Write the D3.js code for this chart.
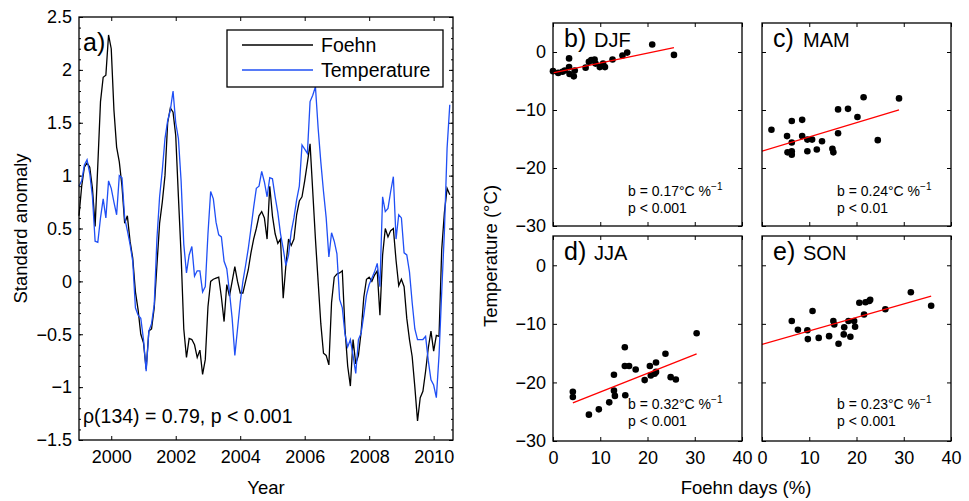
<!DOCTYPE html>
<html><head><meta charset="utf-8">
<script src="https://cdn.jsdelivr.net/npm/d3@7"></script>
<style>
body{margin:0;background:#fff}
text{font-family:"Liberation Sans",Arial,Helvetica,sans-serif;fill:#000}
</style>
</head><body>
<svg id="chart" width="969" height="501"></svg>
<script>
// ---------- DATA ----------
const startYear = 1999;
const seriesNames = ["Foehn", "Temperature"];
const foehn = [0.62,0.90,1.08,1.12,1.08,0.88,0.52,1.10,1.70,1.93,1.95,2.33,2.20,1.62,1.27,1.13,0.90,0.55,0.62,0.38,
0.22,-0.10,-0.27,-0.50,-0.58,-0.83,-0.47,-0.45,-0.25,0.15,0.55,0.75,1.00,1.50,1.64,1.60,1.38,0.80,0.25,-0.45,
-0.72,-0.54,-0.55,-0.60,-0.72,-0.65,-0.88,-0.74,-0.24,0.00,0.02,0.03,0.04,-0.15,-0.38,-0.03,-0.14,0.00,0.14,0.00,
-0.11,-0.11,0.00,0.11,0.27,0.40,0.50,0.62,0.66,0.60,0.40,0.90,0.62,0.45,0.36,0.40,-0.16,0.15,0.40,0.34,
0.40,0.63,0.76,0.80,0.95,1.12,1.30,0.85,0.40,0.00,-0.40,-0.68,-0.70,-0.79,-0.20,0.04,0.07,0.08,0.10,-0.45,
-0.80,-0.99,-0.55,-0.78,-0.70,-0.48,-0.15,0.02,0.04,0.00,0.06,0.10,-0.32,0.25,0.50,0.42,0.48,0.50,0.20,-0.04,
0.02,-0.05,-0.35,-0.55,-0.71,-1.00,-1.32,-1.10,-1.04,-0.85,-0.63,-0.47,-0.66,-0.51,-0.52,0.30,0.65,0.88,0.82];
const temperature = [0.90,0.95,1.10,1.15,1.02,0.80,0.38,0.37,0.60,0.78,0.60,0.95,0.88,0.75,0.63,1.00,0.98,0.60,0.48,0.35,
0.19,-0.25,-0.32,-0.35,-0.55,-0.85,-0.47,-0.40,-0.22,0.40,0.80,1.05,1.35,1.52,1.62,1.80,1.50,1.35,0.95,0.35,
0.08,0.25,0.33,0.05,0.10,0.10,-0.10,-0.05,0.45,0.85,0.78,0.56,0.44,0.42,0.19,0.12,-0.10,-0.35,-0.70,-0.45,
-0.20,0.00,0.15,0.31,0.50,0.70,0.88,0.90,1.04,0.94,0.80,0.98,0.97,0.80,0.65,0.45,0.31,0.15,0.25,0.47,
0.60,0.77,0.90,1.29,1.25,1.21,1.70,1.76,1.84,1.45,1.13,0.85,0.60,0.23,0.46,0.38,0.26,-0.17,-0.25,-0.50,
-0.62,-0.55,-0.70,-0.87,-0.55,-0.49,-0.32,-0.13,-0.03,0.03,0.09,0.17,-0.05,0.80,0.66,0.69,0.85,0.99,0.40,0.63,
0.60,0.27,0.25,0.09,-0.20,-0.45,-0.55,-0.55,-0.55,-0.52,-0.75,-0.93,-0.98,-1.10,-0.70,-0.10,0.47,1.26,1.67];
const yearTicks = [2000, 2002, 2004, 2006, 2008, 2010];
const anomalyTicks = [-1.5, -1, -0.5, 0, 0.5, 1, 1.5, 2, 2.5];
const corrText = "\u03c1(134) = 0.79, p < 0.001";

const seasons = ["DJF", "MAM", "JJA", "SON"];
const panelLetters = ["b)", "c)", "d)", "e)"];
const djfX = [0,1.1,2.0,2.5,3.4,3.4,3.5,4.4,4.6,6.9,7.6,8.1,8.8,9.0,9.9,10.6,11.0,12.6,14.7,15.7,21.0,25.6];
const djfY = [-3.3,-3.6,-3.4,-3.2,-1.1,-2.6,-3.8,-4.2,-3.2,-2.7,-1.7,-1.4,-1.3,-2.0,-2.6,-2.0,-2.6,-1.3,-0.6,-0.1,1.3,-0.5];
const mamX = [2.0,5.3,5.4,6.3,6.3,6.3,6.3,8.5,8.5,9.6,10.6,9.6,11.6,12.7,14.9,15.1,16.1,16.1,18.2,20.2,21.5,24.5,29.0];
const mamY = [-13.4,-14.5,-17.3,-11.9,-15.6,-17.1,-17.7,-11.7,-14.5,-15.1,-15.1,-17.1,-16.8,-15.4,-16.7,-17.3,-9.9,-14.0,-9.8,-11.2,-7.8,-15.2,-8.0];
const jjaX = [4.2,4.2,7.6,9.7,11.9,12.9,12.9,13.1,15.2,15.2,15.3,16.1,17.5,19.4,20.5,20.7,21.5,21.8,21.8,23.8,24.9,26.0,30.4];
const jjaY = [-21.6,-22.5,-25.5,-24.6,-23.4,-18.7,-21.4,-22.3,-14.0,-17.2,-22.2,-17.2,-17.8,-19.6,-17.2,-18.8,-18.5,-16.6,-18.2,-15.1,-19.1,-19.5,-11.6];
const sonX = [6.3,7.6,9.6,9.7,10.7,12.0,14.2,15.1,15.3,16.2,17.3,17.4,18.3,18.7,19.5,19.7,20.6,21.6,21.9,22.7,22.9,26.1,31.5,35.8];
const sonY = [-9.5,-11.0,-11.1,-12.6,-7.8,-12.4,-12.1,-9.5,-10.1,-13.4,-11.8,-10.6,-9.5,-12.2,-9.5,-10.5,-6.4,-8.4,-6.3,-6.1,-5.9,-7.5,-4.6,-6.9];
const fitIntercepts = [-3.6, -17.1, -24.85, -13.5];
const fitSlopes = [0.17, 0.245, 0.32, 0.23];
const fitStart = [0, 0, 4.2, 0];
const fitEnd = [25.6, 29.0, 30.4, 35.8];
const slopeLabels = ["0.17", "0.24", "0.32", "0.23"];
const pLabels = ["p < 0.001", "p < 0.01", "p < 0.001", "p < 0.001"];
const foehnDayTicks = [0, 10, 20, 30, 40];
const tempTicks = [0, -10, -20, -30];

// ---------- CHART ----------
const svg = d3.select("#chart");
const fmtMinus = d => String(d).replace("-", "\u2212");
const blue = "#1f4ff5";

// Panel a
const A = {l: 79, r: 453, t: 17, b: 440};
const xA = d3.scaleLinear().domain([1999, 2010.6]).range([A.l, A.r]);
const yA = d3.scaleLinear().domain([-1.5, 2.5]).range([A.b, A.t]);
const gA = svg.append("g");

const minorA = d3.range(-15, 26).map(d => d / 10);
gA.append("g").attr("transform", `translate(${A.l},0)`)
  .call(d3.axisLeft(yA).tickValues(minorA).tickSize(-2).tickFormat(""))
  .call(g => g.select(".domain").remove());
gA.append("g").attr("transform", `translate(${A.r},0)`)
  .call(d3.axisRight(yA).tickValues(minorA).tickSize(-2).tickFormat(""))
  .call(g => g.select(".domain").remove());
gA.append("g").attr("transform", `translate(${A.l},0)`)
  .call(d3.axisLeft(yA).tickValues(anomalyTicks).tickSize(-4).tickPadding(7).tickFormat(fmtMinus))
  .call(g => g.select(".domain").remove())
  .selectAll("text").style("font-size", "18px");
gA.append("g").attr("transform", `translate(${A.r},0)`)
  .call(d3.axisRight(yA).tickValues(anomalyTicks).tickSize(-4).tickFormat(""))
  .call(g => g.select(".domain").remove());
gA.append("g").attr("transform", `translate(0,${A.b})`)
  .call(d3.axisBottom(xA).tickValues(yearTicks).tickSize(-4).tickPadding(10).tickFormat(d3.format("d")))
  .call(g => g.select(".domain").remove())
  .selectAll("text").style("font-size", "18px");
gA.append("g").attr("transform", `translate(0,${A.t})`)
  .call(d3.axisTop(xA).tickValues(yearTicks).tickSize(-4).tickFormat(""))
  .call(g => g.select(".domain").remove());
gA.selectAll(".tick line").attr("stroke", "#000");

const line = d3.line().x((d, i) => xA(startYear + i / 12)).y(d => yA(d));
gA.append("path").datum(foehn).attr("d", line).attr("fill", "none").attr("stroke", "#000").attr("stroke-width", 1.3);
gA.append("path").datum(temperature).attr("d", line).attr("fill", "none").attr("stroke", blue).attr("stroke-width", 1.3);

gA.append("rect").attr("x", A.l).attr("y", A.t).attr("width", A.r - A.l).attr("height", A.b - A.t)
  .attr("fill", "none").attr("stroke", "#000").attr("stroke-width", 1.3);

gA.append("text").attr("x", 83).attr("y", 51).style("font-size", "25px").text("a)");
gA.append("text").attr("x", 83).attr("y", 423).style("font-size", "19.5px").text(corrText);

// legend
const leg = gA.append("g");
leg.append("rect").attr("x", 227).attr("y", 30).attr("width", 216).attr("height", 57)
  .attr("fill", "#fff").attr("stroke", "#000").attr("stroke-width", 1.3);
seriesNames.forEach((n, i) => {
  leg.append("line").attr("x1", 242).attr("x2", 313).attr("y1", 45 + i * 25).attr("y2", 45 + i * 25)
    .attr("stroke", i === 0 ? "#000" : blue).attr("stroke-width", 1.3);
  leg.append("text").attr("x", 321).attr("y", 52 + i * 25).style("font-size", "19.5px").text(n);
});

gA.append("text").attr("transform", `translate(27,${(A.t + A.b) / 2}) rotate(-90)`)
  .attr("text-anchor", "middle").style("font-size", "18.5px").text("Standard anomaly");
gA.append("text").attr("x", (A.l + A.r) / 2).attr("y", 494).attr("text-anchor", "middle")
  .style("font-size", "18.5px").text("Year");

// Scatter panels
const cols = [{l: 553, r: 742}, {l: 762, r: 951}];
const rows = [{t: 23, b: 226}, {t: 236, b: 441}];
const xsData = [djfX, mamX, jjaX, sonX];
const ysData = [djfY, mamY, jjaY, sonY];

seasons.forEach((s, k) => {
  const c = cols[k % 2], r = rows[Math.floor(k / 2)];
  const x = d3.scaleLinear().domain([0, 40]).range([c.l, c.r]);
  const y = d3.scaleLinear().domain([-30, 5]).range([r.b, r.t]);
  const g = svg.append("g");
  const showY = k % 2 === 0, showX = k >= 2;

  g.append("g").attr("transform", `translate(${c.l},0)`)
    .call(d3.axisLeft(y).tickValues(tempTicks).tickSize(-4).tickPadding(7).tickFormat(showY ? fmtMinus : ""))
    .call(gg => gg.select(".domain").remove())
    .selectAll("text").style("font-size", "18px");
  g.append("g").attr("transform", `translate(${c.r},0)`)
    .call(d3.axisRight(y).tickValues(tempTicks).tickSize(-4).tickFormat(""))
    .call(gg => gg.select(".domain").remove());
  g.append("g").attr("transform", `translate(0,${r.b})`)
    .call(d3.axisBottom(x).tickValues(foehnDayTicks).tickSize(-4).tickPadding(10).tickFormat(showX ? d3.format("d") : ""))
    .call(gg => gg.select(".domain").remove())
    .selectAll("text").style("font-size", "18px");
  g.append("g").attr("transform", `translate(0,${r.t})`)
    .call(d3.axisTop(x).tickValues(foehnDayTicks).tickSize(-4).tickFormat(""))
    .call(gg => gg.select(".domain").remove());
  g.selectAll(".tick line").attr("stroke", "#000");

  const pts = xsData[k].map((v, i) => [v, ysData[k][i]]);
  g.append("g").selectAll("circle").data(pts).join("circle")
    .attr("cx", d => x(d[0])).attr("cy", d => y(d[1])).attr("r", 3.3).attr("fill", "#000");

  const fit = [fitStart[k], fitEnd[k]].map(v => [v, fitIntercepts[k] + fitSlopes[k] * v]);
  g.append("path").datum(fit).attr("d", d3.line().x(d => x(d[0])).y(d => y(d[1])))
    .attr("stroke", "#ff0000").attr("stroke-width", 1.3).attr("fill", "none");

  g.append("rect").attr("x", c.l).attr("y", r.t).attr("width", c.r - c.l).attr("height", r.b - r.t)
    .attr("fill", "none").attr("stroke", "#000").attr("stroke-width", 1.3);

  g.append("text").attr("x", c.l + 11).attr("y", r.t + 24).style("font-size", "25px").text(panelLetters[k]);
  g.append("text").attr("x", c.l + 41).attr("y", r.t + 24).style("font-size", "20px").text(s);

  const t1 = g.append("text").attr("x", c.l + 75).attr("y", r.t + 173).style("font-size", "14px")
    .text(`b = ${slopeLabels[k]}\u00b0C %`);
  t1.append("tspan").attr("dy", -6).style("font-size", "10px").text("\u22121");
  g.append("text").attr("x", c.l + 75).attr("y", r.t + 190).style("font-size", "14px").text(pLabels[k]);
});

svg.append("text").attr("transform", `translate(497,256) rotate(-90)`)
  .attr("text-anchor", "middle").style("font-size", "18.5px").text("Temperature (\u00b0C)");
svg.append("text").attr("x", 746).attr("y", 494).attr("text-anchor", "middle")
  .style("font-size", "18.5px").text("Foehn days (%)");
</script>
</body></html>
